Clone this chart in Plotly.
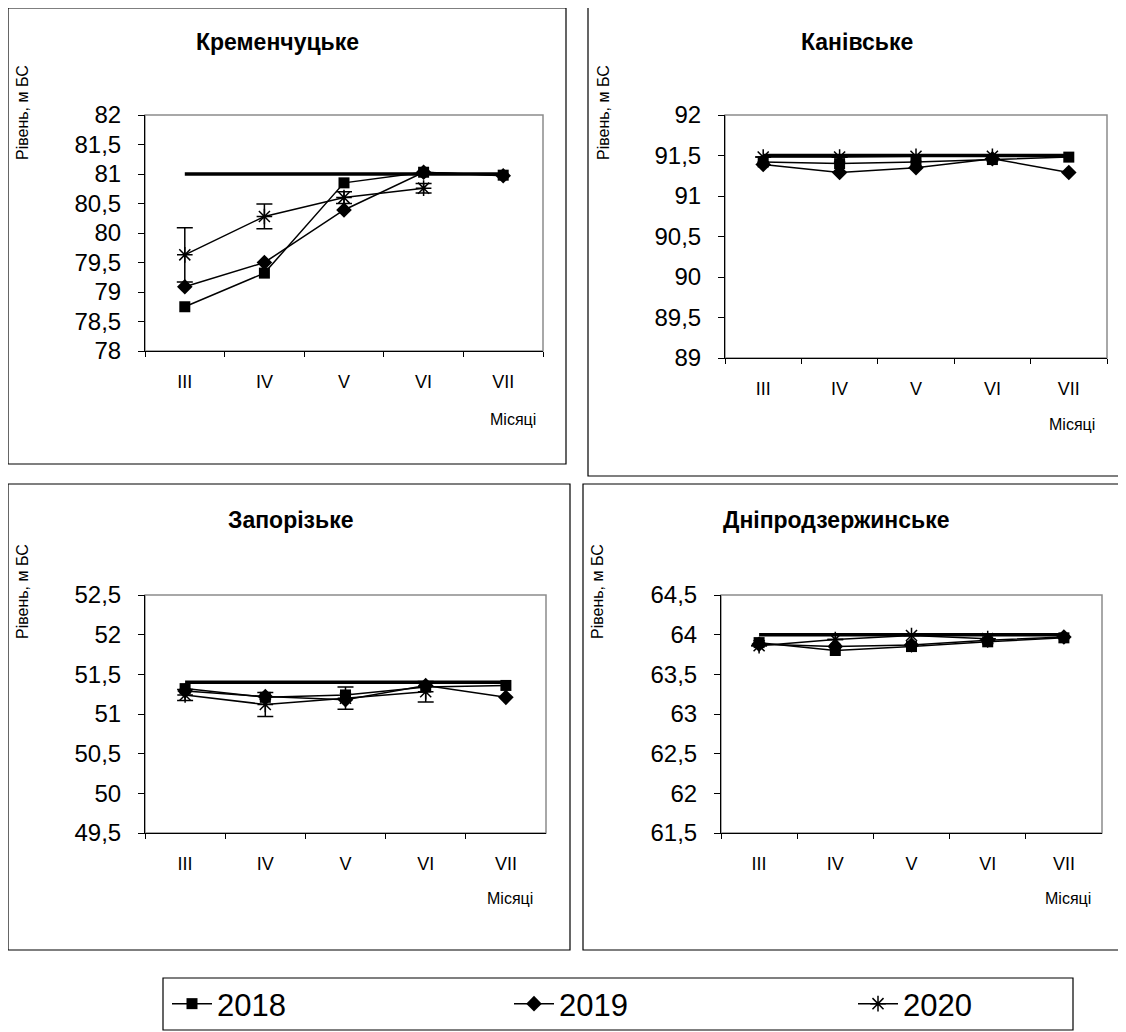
import plotly.graph_objects as go

# page has an 8px body margin, so the figure is placed at (8, 8)
OFF = 8
FW, FH = 1118, 1024

months = ["III", "IV", "V", "VI", "VII"]
months_2020 = ["III", "IV", "V", "VI"]

# Кременчуцьке
krem_2018 = [78.75, 79.32, 80.85, 81.03, 80.98]
krem_2019 = [79.09, 79.50, 80.39, 81.03, 80.97]
krem_2020 = [79.63, 80.28, 80.60, 80.76]
krem_2020_err = [0.46, 0.21, 0.10, 0.08]
krem_npu = [81.0, 81.0, 81.0, 81.0, 81.0]

# Канівське
kan_2018 = [91.42, 91.40, 91.42, 91.45, 91.48]
kan_2019 = [91.39, 91.29, 91.35, 91.46, 91.29]
kan_2020 = [91.48, 91.48, 91.49, 91.49]
kan_2020_err = [0.0, 0.0, 0.0, 0.0]
kan_npu = [91.5, 91.5, 91.5, 91.5, 91.5]

# Запорізьке
zap_2018 = [51.32, 51.21, 51.24, 51.34, 51.36]
zap_2019 = [51.29, 51.22, 51.18, 51.36, 51.21]
zap_2020 = [51.24, 51.12, 51.20, 51.28]
zap_2020_err = [0.07, 0.15, 0.14, 0.13]
zap_npu = [51.4, 51.4, 51.4, 51.4, 51.4]

# Дніпродзержинське
dnp_2018 = [63.90, 63.80, 63.85, 63.91, 63.96]
dnp_2019 = [63.88, 63.85, 63.87, 63.93, 63.97]
dnp_2020 = [63.86, 63.94, 63.99, 63.95]
dnp_2020_err = [0.0, 0.0, 0.0, 0.0]
dnp_npu = [64.0, 64.0, 64.0, 64.0, 64.0]

titles = ["Кременчуцьке", "Канівське", "Запорізьке", "Дніпродзержинське"]
y_ranges = [[78, 82], [89, 92], [49.5, 52.5], [61.5, 64.5]]
y_title = "Рівень, м БС"
x_title = "Місяці"
legend_names = ["2018", "2019", "2020"]

panels = [
    (krem_2018, krem_2019, krem_2020, krem_2020_err, krem_npu),
    (kan_2018, kan_2019, kan_2020, kan_2020_err, kan_npu),
    (zap_2018, zap_2019, zap_2020, zap_2020_err, zap_npu),
    (dnp_2018, dnp_2019, dnp_2020, dnp_2020_err, dnp_npu),
]

# geometry in page pixels
plot_px = [(145, 543, 115, 351), (725, 1107, 115, 358), (145, 546, 595, 833), (721, 1102, 595, 833)]
box_px = [(8, 566, 8, 464), (588, 1123, 6, 476), (8, 570, 484, 950), (583, 1123, 484, 950)]
title_px = [(277, 42), (857, 42), (290, 520), (836, 520)]
ytitle_px = [(22, 113), (603, 113), (22, 592), (597, 592)]
xtitle_px = [(513, 419), (1072, 424), (510, 898), (1068, 898)]
legend_x_px = [167, 509, 853]
legend_y_px = 1004

FONT = "Liberation Sans, Arial, sans-serif"


def fx(px):
    return (px - OFF) / FW


def fy(py):
    return 1 - (py - OFF) / FH


fig = go.Figure()
shapes = []
annotations = []
layout_axes = {}
legend_keys = ["legend", "legend2", "legend3"]

for i, (s18, s19, s20, e20, npu) in enumerate(panels):
    n = i + 1
    xa = "x" if n == 1 else f"x{n}"
    ya = "y" if n == 1 else f"y{n}"
    first = (i == 0)
    fig.add_trace(go.Scatter(x=months, y=npu, mode="lines", line=dict(color="black", width=3.5),
                             xaxis=xa, yaxis=ya, showlegend=False, hoverinfo="skip"))
    fig.add_trace(go.Scatter(x=months, y=s18, mode="lines+markers", name=legend_names[0],
                             legendgroup="2018", showlegend=first, legend=legend_keys[0],
                             line=dict(color="black", width=1.5),
                             marker=dict(symbol="square", size=11, color="black"),
                             xaxis=xa, yaxis=ya))
    fig.add_trace(go.Scatter(x=months, y=s19, mode="lines+markers", name=legend_names[1],
                             legendgroup="2019", showlegend=first, legend=legend_keys[1],
                             line=dict(color="black", width=1.5),
                             marker=dict(symbol="diamond", size=12, color="black"),
                             xaxis=xa, yaxis=ya))
    fig.add_trace(go.Scatter(x=months_2020, y=s20, mode="lines+markers", name=legend_names[2],
                             legendgroup="2020", showlegend=first, legend=legend_keys[2],
                             line=dict(color="black", width=1.5),
                             marker=dict(symbol="asterisk-open", size=13, color="black",
                                         line=dict(color="black", width=1.5)),
                             error_y=dict(type="data", array=e20, visible=True, color="black",
                                          thickness=1.5, width=8),
                             xaxis=xa, yaxis=ya))

    x0, x1, y0, y1 = plot_px[i]
    axn = "" if n == 1 else str(n)
    layout_axes[f"xaxis{axn}"] = dict(
        domain=[fx(x0), fx(x1)], anchor=ya, type="category",
        categoryorder="array", categoryarray=months, range=[-0.5, 4.5],
        showline=True, linecolor="black", linewidth=1, mirror=False,
        ticks="outside", ticklen=5, tickcolor="black", tickson="boundaries",
        showgrid=False, zeroline=False, ticklabelstandoff=14,
        tickfont=dict(family=FONT, size=18, color="black"),
    )
    layout_axes[f"yaxis{axn}"] = dict(
        domain=[fy(y1), fy(y0)], anchor=xa, range=y_ranges[i], dtick=0.5,
        showline=True, linecolor="black", linewidth=1,
        ticks="outside", ticklen=6, tickcolor="black",
        showgrid=False, zeroline=False, ticklabelstandoff=12,
        tickfont=dict(family=FONT, size=24, color="black"),
    )
    shapes.append(dict(type="rect", xref=f"{xa} domain", yref=f"{ya} domain",
                       x0=0, x1=1, y0=0, y1=1, line=dict(color="#8c8c8c", width=1.5),
                       layer="below"))
    bx0, bx1, by0, by1 = box_px[i]
    shapes.append(dict(type="rect", xref="paper", yref="paper",
                       x0=fx(bx0), x1=fx(bx1), y0=fy(by1), y1=fy(by0),
                       line=dict(color="black", width=1.2), layer="below"))
    tx, ty = title_px[i]
    annotations.append(dict(text=f"<b>{titles[i]}</b>", x=fx(tx), y=fy(ty), xref="paper", yref="paper",
                            showarrow=False, xanchor="center", yanchor="middle",
                            font=dict(family=FONT, size=23, color="black")))
    yx, yy = ytitle_px[i]
    annotations.append(dict(text=y_title, x=fx(yx), y=fy(yy), xref="paper", yref="paper",
                            showarrow=False, textangle=-90, xanchor="center", yanchor="middle",
                            font=dict(family=FONT, size=16, color="black")))
    mx, my = xtitle_px[i]
    annotations.append(dict(text=x_title, x=fx(mx), y=fy(my), xref="paper", yref="paper",
                            showarrow=False, xanchor="center", yanchor="middle",
                            font=dict(family=FONT, size=16, color="black")))

# legend box
shapes.append(dict(type="rect", xref="paper", yref="paper",
                   x0=fx(163), x1=fx(1073), y0=fy(1030), y1=fy(978),
                   line=dict(color="black", width=1.2), layer="below"))

legend_common = dict(orientation="h", xanchor="left", yanchor="middle",
                     font=dict(family=FONT, size=31, color="black"),
                     itemwidth=40, bgcolor="rgba(0,0,0,0)", borderwidth=0)

fig.update_layout(
    width=FW, height=FH,
    margin=dict(l=0, r=0, t=0, b=0, autoexpand=False),
    paper_bgcolor="white", plot_bgcolor="white",
    separators=", ",
    font=dict(family=FONT, color="black"),
    shapes=shapes, annotations=annotations,
    showlegend=True,
    legend=dict(x=fx(legend_x_px[0]), y=fy(legend_y_px), **legend_common),
    legend2=dict(x=fx(legend_x_px[1]), y=fy(legend_y_px), **legend_common),
    legend3=dict(x=fx(legend_x_px[2]), y=fy(legend_y_px), **legend_common),
    **layout_axes,
)

fig.write_html("out.html")
